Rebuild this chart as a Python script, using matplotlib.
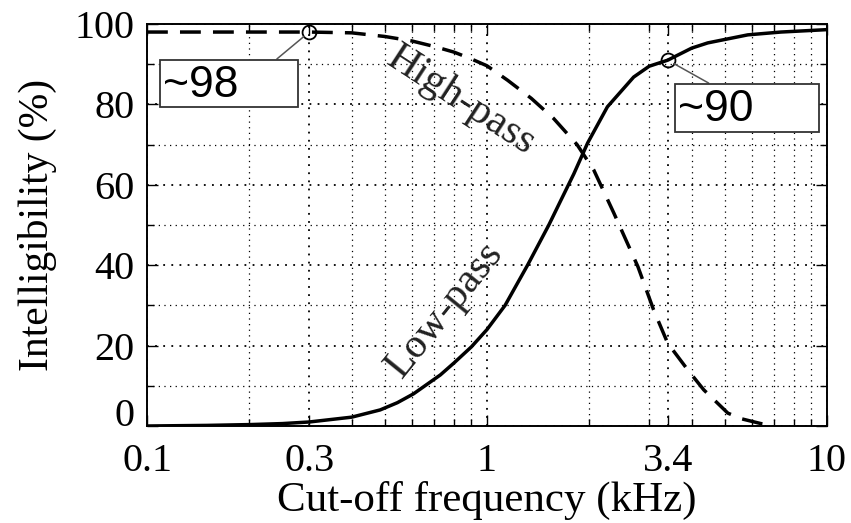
import numpy as np
import matplotlib
matplotlib.use("Agg")
import matplotlib.pyplot as plt
from matplotlib.patches import Rectangle
from matplotlib.ticker import FixedLocator, NullFormatter

# values
lp_freq = [0.1, 0.15, 0.2, 0.25, 0.3, 0.4, 0.485, 0.545, 0.608, 0.729, 0.8, 0.9, 1.0, 1.13,
           1.316, 1.52, 1.646, 1.8, 1.977, 2.26, 2.7, 3.0, 3.4, 4.0, 4.46, 5.85, 7.32, 10.0]
lp_val = [0, 0.15, 0.35, 0.6, 1.0, 2.2, 4.0, 5.8, 8.0, 12.7, 15.7, 19.7, 24.0, 30.0,
          40.0, 50.0, 56.0, 62.7, 70.4, 79.4, 86.8, 89.5, 91.0, 94.0, 95.3, 97.3, 98.0, 98.6]

hp_freq = [0.1, 0.2, 0.3, 0.4, 0.5, 0.6, 0.7, 0.8, 0.894, 1.0, 1.15, 1.35, 1.57, 1.84,
           2.06, 2.36, 2.78, 3.09, 3.4, 3.9, 4.34, 5.11, 5.6, 6.39, 6.8]
hp_val = [98, 98, 98, 97.8, 96.9, 95.8, 94.4, 93.0, 91.4, 89.6, 86.0, 81.5, 76.5, 70.0,
          63.7, 53.0, 39.6, 28.9, 20.6, 13.9, 9.0, 3.2, 1.8, 0.6, 0.3]

x_ticks = [0.1, 0.3, 1, 3.4, 10]
x_ticklabels = ["0.1", "0.3", "1", "3.4", "10"]
x_minor = [0.2, 0.3, 0.4, 0.5, 0.6, 0.7, 0.8, 0.9, 2, 3, 4, 5, 6, 7, 8, 9]
y_ticks = [0, 20, 40, 60, 80, 100]
y_minor = [10, 30, 50, 70, 90]

hp_mark = (0.3, 98)
lp_mark = (3.4, 91)

serif = "Liberation Serif"
sans = "Liberation Sans"

fig = plt.figure(figsize=(8.51, 5.23), dpi=100)
ax = fig.add_axes([147/851, 97/523, 680/851, 402/523])

ax.plot(lp_freq, lp_val, color="black", lw=2.5, solid_joinstyle="round")
ax.plot(hp_freq, hp_val, color="black", lw=2.5, dashes=(6, 3.5))

ax.set_xscale("log")
ax.set_xlim(0.1, 10)
ax.set_ylim(0, 100)

ax.xaxis.set_major_locator(FixedLocator(x_ticks))
ax.set_xticklabels(x_ticklabels)
ax.xaxis.set_minor_locator(FixedLocator(x_minor))
ax.xaxis.set_minor_formatter(NullFormatter())
ax.set_yticks(y_ticks)
ax.yaxis.set_minor_locator(FixedLocator(y_minor))

ax.grid(True, which="major", ls=(0, (1, 3.5)), color="black", lw=1.3)
ax.grid(True, which="minor", ls=(0, (1, 3.5)), color="black", lw=0.9)

ax.tick_params(which="both", direction="in", top=True, right=True, width=1.0)
ax.tick_params(which="major", length=8, labelsize=29)
ax.tick_params(axis="x", which="major", pad=12)
ax.tick_params(axis="y", which="major", pad=9)
ax.tick_params(which="minor", length=5)
for lab in ax.get_xticklabels() + ax.get_yticklabels():
    lab.set_family(serif)
# the "0" sits a little above its tick, as in the reference
ax.get_yticklabels()[0].set_verticalalignment("baseline")
for s in ax.spines.values():
    s.set_linewidth(1.4)

ax.set_xlabel("Cut-off frequency (kHz)", family=serif, fontsize=31)
ax.set_ylabel("Intelligibility (%)", family=serif, fontsize=30)
ax.xaxis.set_label_coords(0.5, -0.137)
ax.yaxis.set_label_coords(-0.133, 0.5)

# curve labels
ax.text(0.84, 81, "High-pass", family=serif, fontsize=30, rotation=-33,
        ha="center", va="center", color="#222222")
ax.text(0.75, 29, "Low-pass", family=serif, fontsize=30, rotation=51,
        ha="center", va="center", color="#222222")

# markers and value boxes
ax.plot(*hp_mark, marker="o", ms=10, mfc="none", mec="black", mew=1.3)
ax.plot(*lp_mark, marker="o", ms=10, mfc="none", mec="black", mew=1.3)

ax.annotate("", xy=hp_mark, xytext=(0.191, 0.913), textcoords="axes fraction",
            arrowprops=dict(arrowstyle="-", color="#555555", lw=1.1,
                            shrinkA=0, shrinkB=5))
ax.annotate("", xy=lp_mark, xytext=(0.826, 0.853), textcoords="axes fraction",
            arrowprops=dict(arrowstyle="-", color="#555555", lw=1.1,
                            shrinkA=0, shrinkB=5))

ax.add_patch(Rectangle((0.019, 0.794), 0.203, 0.116, transform=ax.transAxes,
                       fc="white", ec="#333333", lw=1.3, zorder=5))
ax.add_patch(Rectangle((0.776, 0.731), 0.212, 0.120, transform=ax.transAxes,
                       fc="white", ec="#333333", lw=1.3, zorder=5))
ax.text(0.023, 0.848, "~98", transform=ax.transAxes, family=sans, fontsize=32,
        ha="left", va="center", zorder=6)
ax.text(0.781, 0.788, "~90", transform=ax.transAxes, family=sans, fontsize=32,
        ha="left", va="center", zorder=6)

fig.savefig("out.png", dpi=100)
